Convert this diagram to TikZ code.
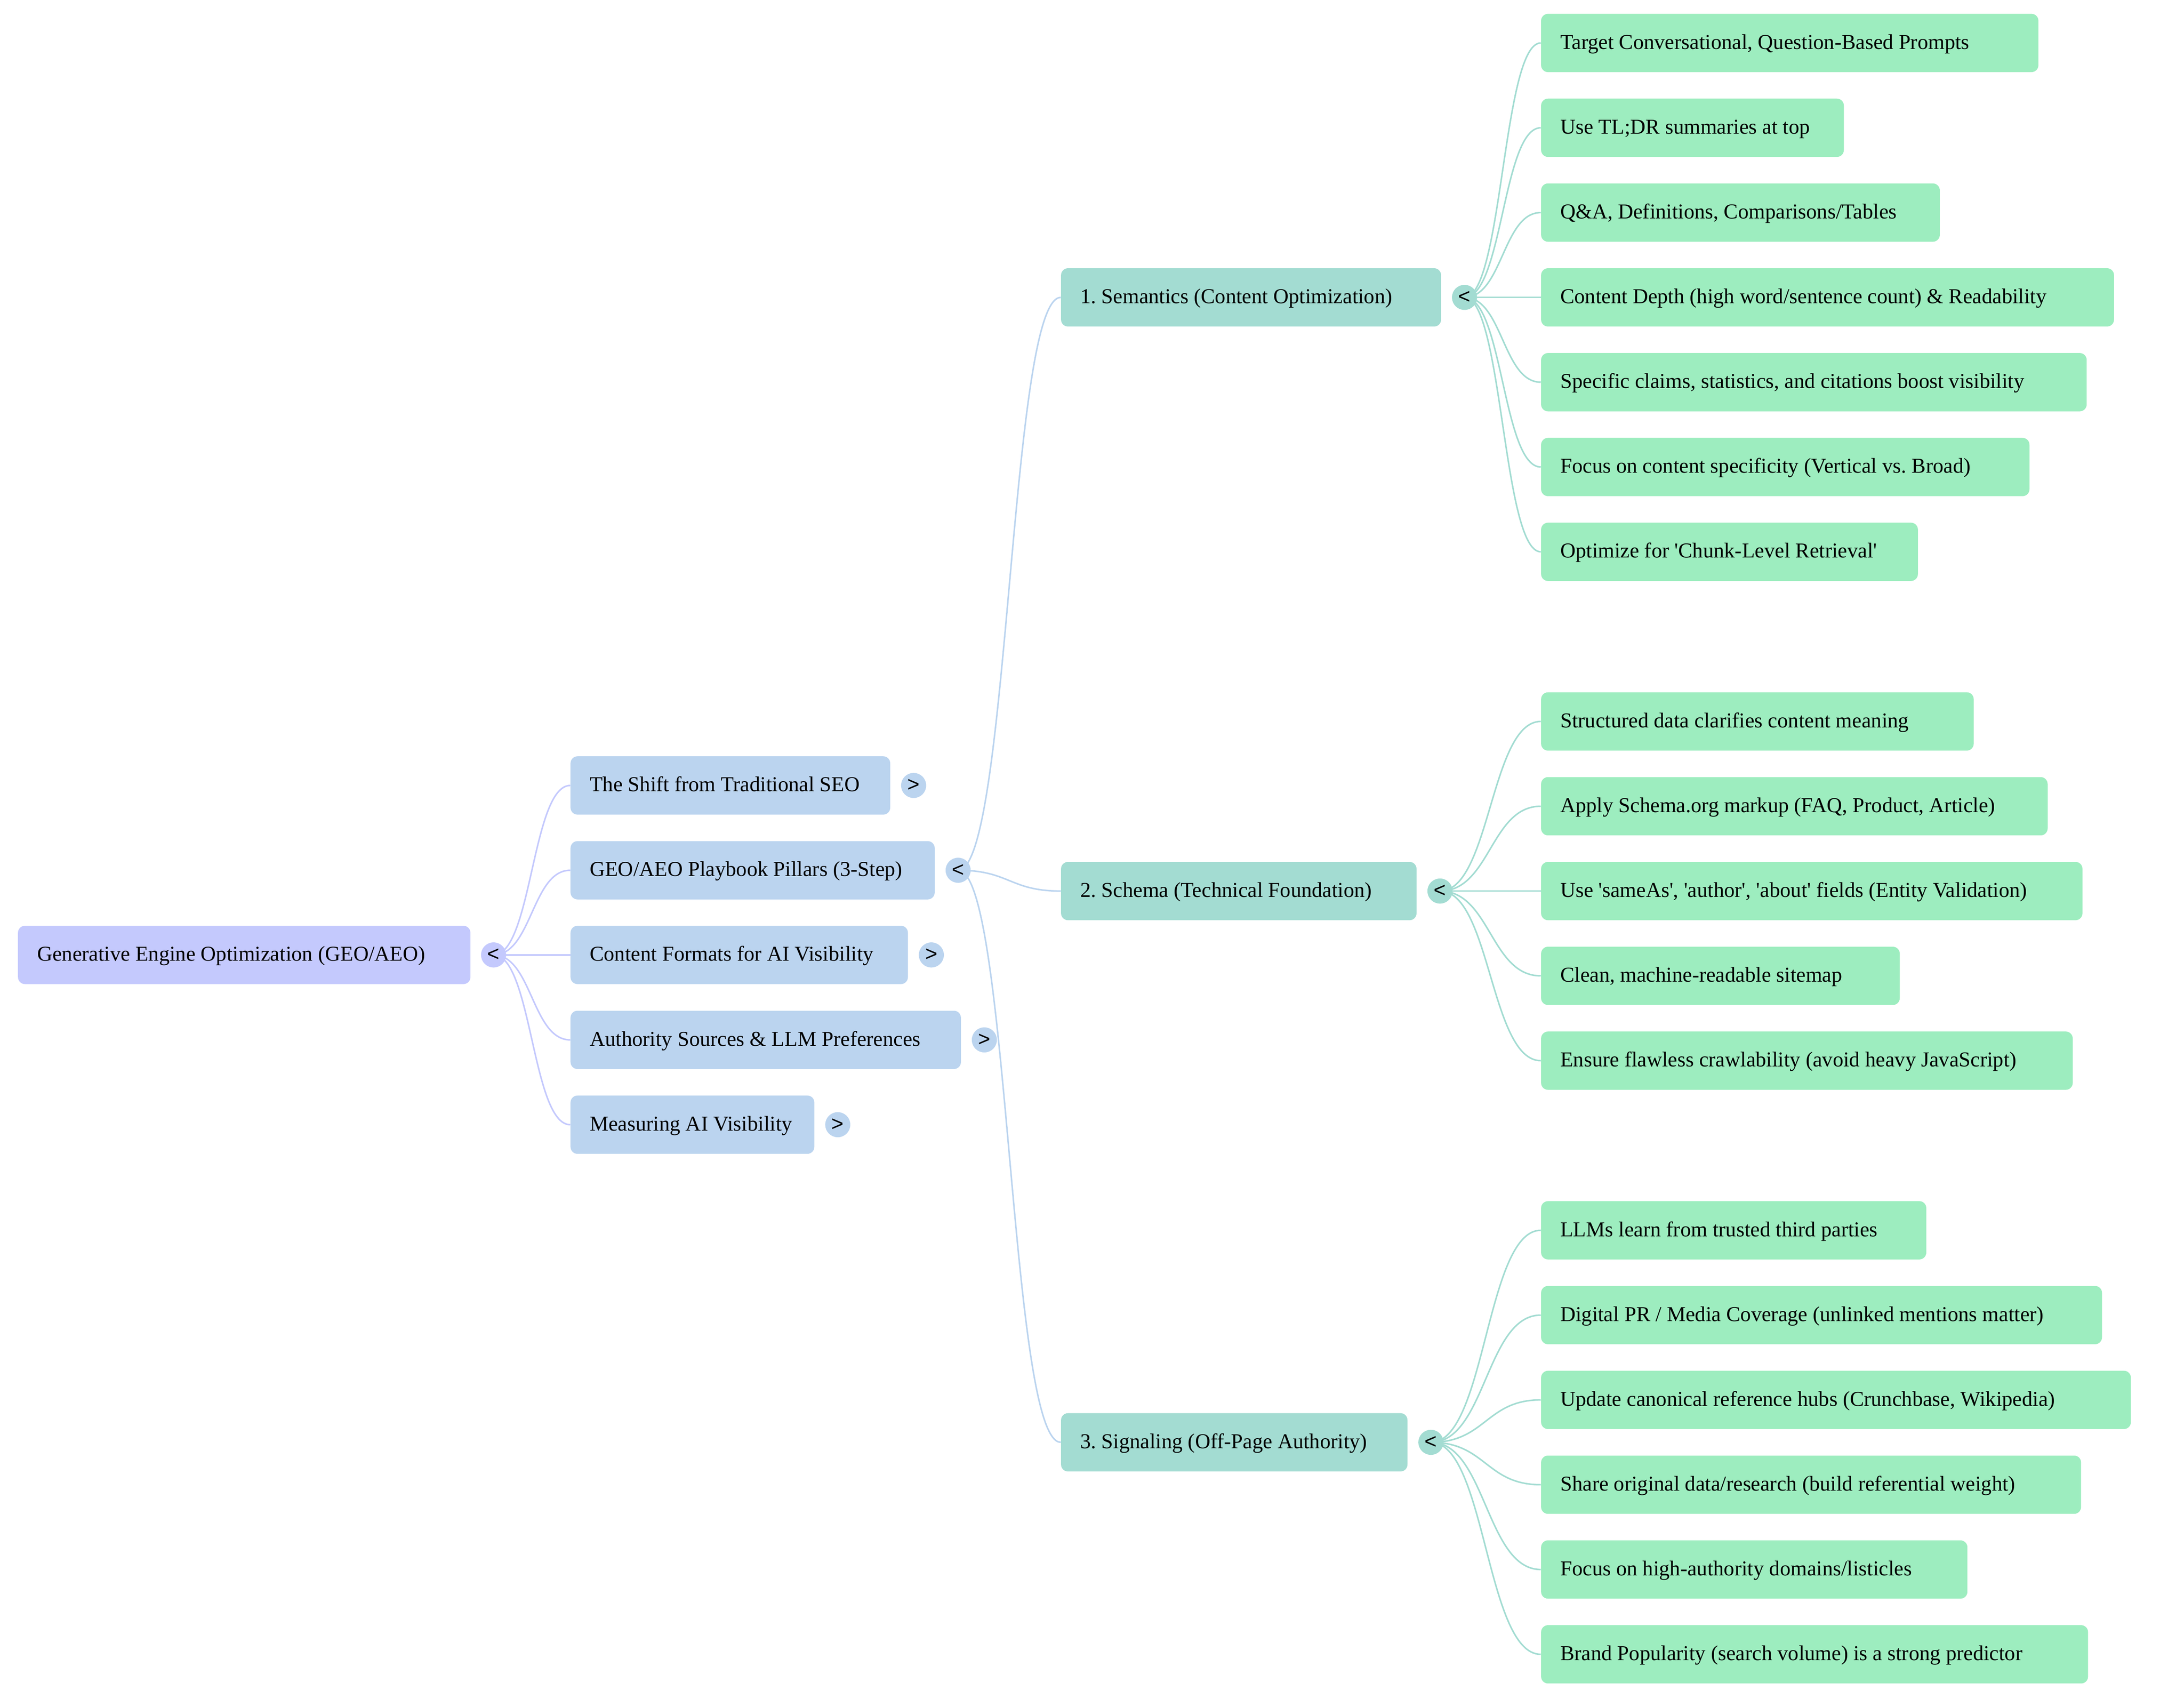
\documentclass[tikz,border=0pt]{standalone}
\usepackage{fontspec}
\setmainfont{Liberation Serif}[Ligatures=TeXOff]
\newfontfamily\tgf{Liberation Sans}
\usetikzlibrary{calc}
\definecolor{crt}{HTML}{C4C9FD}
\definecolor{cl1}{HTML}{BBD4EF}
\definecolor{cl2}{HTML}{A3DCD2}
\definecolor{clf}{HTML}{9DEDBF}
\pgfdeclarelayer{bg}
\pgfsetlayers{bg,main}
\frenchspacing
\tikzset{
  box/.style={rectangle, rounded corners=5pt, draw=none, inner xsep=13.8pt, inner ysep=0pt,
    minimum height=41.8pt, text height=11.6pt, text depth=2.9pt, anchor=west,
    font=\fontsize{15.2}{18}\selectfont},
  tg/.style={circle, minimum size=18pt, inner sep=0pt, font=\tgf\fontsize{15}{15}\selectfont},
  lk/.style={line width=1.1pt}
}
\newcommand\bx[6]{\pgfmathsetmacro\tw{#4-#3-27.6}\node[box,fill=#2] (#1) at (#3,#5) {\makebox[\tw pt][l]{#6}};}
\newcommand\lk[3]{\draw[lk,draw=#1] let \p1=(#2.center), \p2=(#3.west) in (\p1) .. controls ({0.5*\x1+0.5*\x2},\y1) and ({0.5*\x1+0.5*\x2},\y2) .. (\p2);}
\begin{document}
\begin{tikzpicture}[x=1pt,y=-1pt]
\useasboundingbox (0,0) rectangle (1566,1217.8);
% root
\bx{root}{crt}{12.7}{337.1}{684.6}{Generative Engine Optimization (GEO/AEO)}
\node[tg,fill=crt] (troot) at (353.9,684.6) {<};
% level 1
\bx{shift}{cl1}{408.9}{638.1}{563.1}{The Shift from Traditional SEO}
\bx{play}{cl1}{408.9}{670.0}{623.9}{GEO/AEO Playbook Pillars (3-Step)}
\bx{form}{cl1}{408.9}{650.8}{684.6}{Content Formats for AI Visibility}
\bx{auth}{cl1}{408.9}{688.8}{745.5}{Authority Sources \& LLM Preferences}
\bx{meas}{cl1}{408.9}{583.7}{806.3}{Measuring AI Visibility}
\node[tg,fill=cl1] (tshift) at (655.1,563.1) {>};
\node[tg,fill=cl1] (tplay) at (687.0,623.9) {<};
\node[tg,fill=cl1] (tform) at (667.8,684.6) {>};
\node[tg,fill=cl1] (tauth) at (705.8,745.5) {>};
\node[tg,fill=cl1] (tmeas) at (600.7,806.3) {>};
% level 2
\bx{sem}{cl2}{760.6}{1033.1}{213.2}{1. Semantics (Content Optimization)}
\bx{sch}{cl2}{760.6}{1015.5}{638.8}{2. Schema (Technical Foundation)}
\bx{sig}{cl2}{760.6}{1009.0}{1034.0}{3. Signaling (Off-Page Authority)}
\node[tg,fill=cl2] (tsem) at (1050.1,213.2) {<};
\node[tg,fill=cl2] (tsch) at (1032.5,638.8) {<};
\node[tg,fill=cl2] (tsig) at (1026.0,1034.0) {<};
% leaves
\bx{a0}{clf}{1104.8}{1461.4}{30.8}{Target Conversational, Question-Based Prompts}
\bx{a1}{clf}{1104.8}{1321.9}{91.6}{Use TL;DR summaries at top}
\bx{a2}{clf}{1104.8}{1390.7}{152.4}{Q\&A, Definitions, Comparisons/Tables}
\bx{a3}{clf}{1104.8}{1515.6}{213.2}{Content Depth (high word/sentence count) \& Readability}
\bx{a4}{clf}{1104.8}{1496.0}{274.0}{Specific claims, statistics, and citations boost visibility}
\bx{a5}{clf}{1104.8}{1455.0}{334.8}{Focus on content specificity (Vertical vs. Broad)}
\bx{a6}{clf}{1104.8}{1375.0}{395.6}{Optimize for 'Chunk-Level Retrieval'}
\bx{b0}{clf}{1104.8}{1415.0}{517.2}{Structured data clarifies content meaning}
\bx{b1}{clf}{1104.8}{1468.0}{578.0}{Apply Schema.org markup (FAQ, Product, Article)}
\bx{b2}{clf}{1104.8}{1493.0}{638.8}{Use 'sameAs', 'author', 'about' fields (Entity Validation)}
\bx{b3}{clf}{1104.8}{1362.0}{699.6}{Clean, machine-readable sitemap}
\bx{b4}{clf}{1104.8}{1486.0}{760.4}{Ensure flawless crawlability (avoid heavy JavaScript)}
\bx{c0}{clf}{1104.8}{1381.0}{882.0}{LLMs learn from trusted third parties}
\bx{c1}{clf}{1104.8}{1507.0}{942.8}{Digital PR / Media Coverage (unlinked mentions matter)}
\bx{c2}{clf}{1104.8}{1527.7}{1003.6}{Update canonical reference hubs (Crunchbase, Wikipedia)}
\bx{c3}{clf}{1104.8}{1492.0}{1064.4}{Share original data/research (build referential weight)}
\bx{c4}{clf}{1104.8}{1410.5}{1125.2}{Focus on high-authority domains/listicles}
\bx{c5}{clf}{1104.8}{1497.0}{1186.0}{Brand Popularity (search volume) is a strong predictor}
% links
\begin{pgfonlayer}{bg}
\foreach \nm in {shift,play,form,auth,meas} {\lk{crt}{troot}{\nm}}
\foreach \nm in {sem,sch,sig} {\lk{cl1}{tplay}{\nm}}
\foreach \nm in {a0,a1,a2,a3,a4,a5,a6} {\lk{cl2}{tsem}{\nm}}
\foreach \nm in {b0,b1,b2,b3,b4} {\lk{cl2}{tsch}{\nm}}
\foreach \nm in {c0,c1,c2,c3,c4,c5} {\lk{cl2}{tsig}{\nm}}
\end{pgfonlayer}
\end{tikzpicture}
\end{document}
